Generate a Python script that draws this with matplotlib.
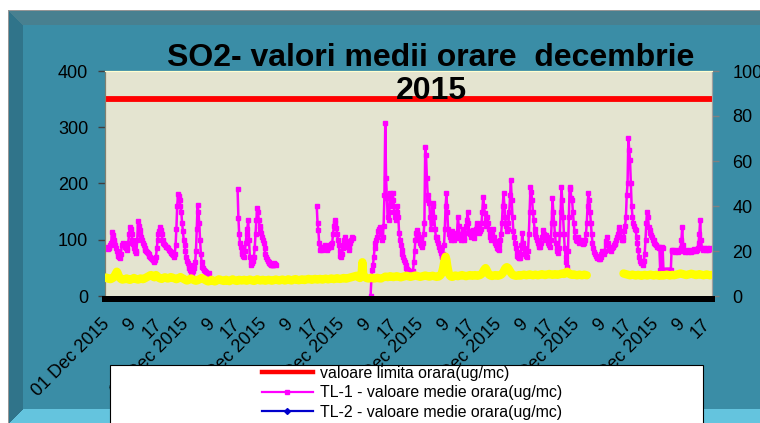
import numpy as np
import matplotlib
matplotlib.use("Agg")
from matplotlib import pyplot as plt
from matplotlib.patches import Rectangle
from matplotlib.lines import Line2D
from matplotlib.transforms import ScaledTranslation

plt.rcParams['font.family'] = ['Liberation Sans', 'DejaVu Sans']

N = None

# Limit value (ug/mc)
valoare_limita = 350

# TL-1 hourly means, one row per day of December 2015 (left axis, ug/mc)
tl1_days = [
    [88, 86, 85, 84, 86, 88, 90, 95, 113, 108, 100, 95, 90, 85, 80, 76, 72, 70, 67, 75, 90, 95, 92, 90],
    [88, 85, 82, 85, 95, 110, 123, 120, 110, 100, 92, 85, 80, 77, 80, 100, 134, 125, 118, 110, 105, 100, 95, 90],
    [85, 82, 80, 78, 76, 74, 72, 70, 68, 66, 64, 62, 61, 64, 70, 85, 100, 110, 115, 122, 118, 110, 100, 95],
    [92, 90, 88, 87, 87, 85, 82, 80, 78, 76, 74, 73, 70, 75, 90, 120, 160, 181, 178, 170, 160, 150, 130, 115],
    [100, 90, 80, 70, 62, 58, 55, 50, 46, 43, 41, 45, 50, 55, 60, 80, 120, 162, 150, 130, 100, 75, 60, 52],
    [50, 47, 45, 42, 40, 38, 37, 41, N, N, N, N, N, N, N, N, N, N, N, N, N, N, N, N],
    [N, N, N, N, N, N, N, N, N, N, N, N, N, N, N, N, N, N, 190, 139, 110, 94, 88, 80],
    [75, 72, 70, 80, 94, 110, 120, 135, 100, 70, 60, 55, 58, 62, 70, 85, 110, 135, 156, 150, 135, 125, 120, 112],
    [105, 100, 95, 85, 75, 70, 65, 62, 60, 58, 57, 56, 55, 55, 56, 58, 57, 56, N, N, N, N, N, N],
    [N, N, N, N, N, N, N, N, N, N, N, N, N, N, N, N, N, N, N, N, N, N, N, N],
    [N, N, N, N, N, N, N, N, N, N, N, N, N, N, N, N, N, N, N, 160, 130, 117, 95, 82],
    [88, 85, 82, 84, 88, 90, 86, 83, 82, 85, 88, 90, 92, 88, 95, 110, 125, 135, 130, 121, 110, 100, 90, 80],
    [72, 70, 75, 85, 95, 100, 105, 98, 90, 87, 82, 88, 95, 100, 105, 103, N, N, N, N, N, N, N, N],
    [N, N, N, N, N, N, N, N, N, N, N, N, N, 0, 30, 46, 55, 70, 85, 95, 100, 105, 115, 120],
    [123, 118, 110, 100, 105, 125, 180, 307, 209, 175, 140, 135, 150, 183, 175, 160, 183, 170, 150, 140, 135, 150, 160, 140],
    [112, 100, 90, 82, 75, 70, 64, 60, 55, 50, 48, 46, 45, 42, 40, 38, 35, 45, 60, 80, 100, 112, 117, 110],
    [105, 100, 95, 90, 87, 95, 110, 130, 265, 250, 210, 180, 170, 165, 140, 120, 130, 165, 160, 140, 120, 105, 100, 105],
    [95, 88, 82, 76, 72, 70, 75, 90, 120, 160, 183, 150, 120, 110, 105, 100, 110, 115, 105, 100, 108, 112, 104, 110],
    [141, 125, 110, 104, 100, 110, 120, 104, 100, 112, 125, 135, 150, 130, 115, 110, 105, 112, 118, 110, 104, 112, 120, 130],
    [125, 118, 112, 115, 120, 130, 150, 176, 160, 148, 135, 125, 141, 130, 120, 112, 105, 100, 110, 120, 105, 98, 94, 90],
    [86, 84, 82, 90, 100, 110, 130, 160, 183, 160, 140, 125, 115, 120, 130, 150, 180, 206, 170, 140, 115, 105, 94, 85],
    [78, 72, 70, 67, 68, 75, 90, 112, 94, 85, 80, 75, 72, 70, 80, 110, 150, 194, 185, 170, 150, 135, 120, 110],
    [105, 100, 95, 90, 88, 87, 95, 105, 117, 110, 105, 100, 108, 105, 100, 95, 90, 88, 100, 130, 174, 150, 130, 110],
    [95, 85, 80, 76, 85, 110, 150, 194, 170, 140, 110, 85, 70, 60, 52, 80, 140, 194, 190, 175, 170, 150, 130, 115],
    [105, 100, 98, 105, 100, 95, 98, 100, 95, 92, 95, 98, 100, 110, 130, 160, 183, 170, 150, 130, 110, 95, 85, 78],
    [75, 72, 70, 68, 70, 66, 65, 70, 75, 80, 78, 75, 80, 90, 98, 105, 95, 88, 85, 82, 80, 85, 88, 90],
    [92, 95, 100, 105, 110, 118, 123, 115, 105, 100, 100, 105, 115, 125, 141, 180, 200, 281, 260, 242, 200, 160, 141, 130],
    [125, 120, 118, 105, 95, 82, 70, 62, 58, 60, 58, 56, 62, 75, 100, 130, 150, 140, 123, 118, 112, 108, 105, 100],
    [100, 95, 92, 90, 88, 87, 87, 85, 46, 46, 87, 85, 46, 46, 46, 46, 46, 46, 46, 46, 46, 46, 82, 80],
    [82, 80, 78, 80, 82, 80, 78, 80, 82, 85, 100, 123, 90, 80, 78, 80, 82, 80, 78, 80, 82, 80, 78, 80],
    [80, 82, 83, 82, 80, 82, 85, 95, 110, 135, 100, 85, 82, 84, 85, 83, 82, 85, 84, 82, 83, 85, 84, 83],
]

# second station series drawn in yellow (right axis)
galben_days = [
    [8.0, 8.2, 8.0, 7.8, 7.8, 7.6, 7.5, 7.6, 7.8, 8.0, 8.3, 8.8, 9.5, 10.2, 10.8, 10.2, 9.2, 8.4, 8.0, 7.6, 7.4, 7.3, 7.4, 7.5],
    [7.5, 7.6, 7.8, 7.6, 7.4, 7.3, 7.2, 7.3, 7.5, 7.6, 7.8, 8.0, 7.8, 7.6, 7.5, 7.4, 7.3, 7.4, 7.6, 7.8, 7.7, 7.6, 7.5, 7.6],
    [7.8, 8.0, 8.2, 8.4, 8.6, 8.8, 9.0, 9.2, 9.3, 9.1, 8.8, 8.5, 8.3, 8.8, 9.3, 9.0, 8.6, 8.2, 8.0, 7.8, 7.7, 7.6, 7.8, 8.0],
    [8.2, 8.3, 8.2, 8.0, 7.8, 7.8, 8.0, 8.2, 8.4, 8.3, 8.2, 8.0, 7.9, 7.8, 7.6, 7.5, 7.6, 7.8, 8.0, 8.2, 8.4, 8.2, 8.0, 7.8],
    [7.6, 7.4, 7.2, 7.0, 6.9, 7.0, 7.2, 7.4, 7.6, 7.8, 7.6, 7.4, 7.2, 7.0, 6.9, 6.8, 6.9, 7.0, 7.2, 7.4, 7.6, 7.8, 8.0, 7.8],
    [7.6, 7.4, 7.2, 7.0, 6.8, 6.6, 6.5, 6.6, 6.8, 7.0, 7.2, 7.0, 6.8, 6.6, 6.5, 6.6, 6.8, 7.0, 7.2, 7.4, 7.3, 7.2, 7.0, 6.9],
    [6.8, 6.7, 6.8, 7.0, 7.2, 7.0, 6.8, 6.7, 6.6, 6.8, 7.0, 7.2, 7.4, 7.2, 7.0, 6.9, 6.8, 6.7, 6.8, 7.0, 7.2, 7.1, 7.0, 6.9],
    [7.0, 7.1, 7.2, 7.0, 6.9, 6.8, 6.9, 7.0, 7.2, 7.3, 7.2, 7.0, 6.9, 6.8, 6.7, 6.8, 7.0, 7.2, 7.4, 7.3, 7.1, 7.0, 6.9, 7.0],
    [7.1, 7.2, 7.0, 6.9, 6.8, 6.9, 7.0, 7.1, 7.2, 7.1, 7.0, 6.9, 6.8, 6.9, 7.0, 7.1, 7.2, 7.3, 7.2, 7.1, 7.0, 6.9, 7.0, 7.1],
    [7.2, 7.3, 7.2, 7.0, 6.9, 7.0, 7.1, 7.2, 7.4, 7.3, 7.1, 7.0, 6.9, 7.0, 7.2, 7.3, 7.4, 7.5, 7.4, 7.2, 7.1, 7.0, 7.1, 7.2],
    [7.3, 7.4, 7.3, 7.2, 7.1, 7.2, 7.3, 7.4, 7.5, 7.6, 7.5, 7.4, 7.3, 7.2, 7.3, 7.4, 7.5, 7.6, 7.5, 7.4, 7.3, 7.4, 7.5, 7.6],
    [7.5, 7.4, 7.3, 7.4, 7.5, 7.6, 7.7, 7.6, 7.5, 7.4, 7.5, 7.6, 7.7, 7.8, 7.7, 7.6, 7.5, 7.6, 7.7, 7.8, 7.9, 7.8, 7.7, 7.6],
    [7.6, 7.7, 7.8, 7.9, 8.0, 7.9, 7.8, 7.7, 7.8, 7.9, 8.0, 8.1, 8.2, 8.3, 8.4, 8.5, 8.6, 8.7, 8.8, 8.9, 9.0, 8.8, 8.5, 8.2],
    [8.0, 8.3, 9.5, 15.0, 9.5, 8.6, 8.4, 8.2, 8.0, 7.9, 7.8, 7.8, 7.9, 8.0, 8.1, 8.0, 7.9, 7.8, 7.8, 7.9, 8.0, 8.1, 8.0, 7.9],
    [7.9, 7.8, 7.8, N, N, N, 8.4, 8.6, 8.6, 8.5, 8.4, 8.5, 8.6, 8.8, 8.7, 8.6, 8.5, 8.4, 8.5, 8.6, 8.7, 8.8, 8.7, 8.6],
    [8.5, 8.4, 8.3, 8.4, 8.5, 8.6, 8.7, 8.8, 8.9, 9.0, 8.9, 8.8, 8.7, 8.6, 8.5, 8.6, 8.7, 8.8, 8.9, 9.0, 9.1, 9.0, 8.9, 8.8],
    [8.7, 8.6, 8.5, 8.6, 8.7, 8.8, 8.9, 9.0, 9.1, 9.0, 8.9, 8.8, 8.7, 8.6, 8.7, 8.8, 8.9, 9.0, 8.9, 8.8, 8.7, 8.6, 8.5, 8.6],
    [8.6, 8.8, 9.0, 9.4, 10.0, 11.0, 12.5, 14.5, 16.5, 17.5, 16.0, 13.5, 11.5, 10.0, 9.2, 8.8, 8.6, 8.5, 8.6, 8.8, 9.0, 9.1, 9.0, 8.9],
    [8.8, 8.9, 9.0, 9.1, 9.2, 9.3, 9.2, 9.1, 9.0, 8.9, 8.8, 8.9, 9.0, 9.1, 9.2, 9.3, 9.2, 9.1, 9.0, 9.1, 9.2, 9.3, 9.2, 9.1],
    [9.0, 9.1, 9.2, 9.3, 9.5, 9.8, 10.2, 10.8, 11.5, 12.0, 12.4, 11.8, 11.0, 10.2, 9.6, 9.3, 9.1, 9.0, 8.9, 9.0, 9.1, 9.2, 9.3, 9.2],
    [9.1, 9.0, 9.1, 9.2, 9.3, 9.5, 9.8, 10.2, 10.8, 11.5, 12.2, 12.6, 12.8, 12.6, 12.2, 11.6, 11.0, 10.4, 9.9, 9.5, 9.3, 9.2, 9.1, 9.0],
    [9.0, 9.1, 9.2, 9.3, 9.2, 9.1, 9.2, 9.3, 9.4, 9.5, 9.4, 9.3, 9.2, 9.3, 9.4, 9.5, 9.6, 9.5, 9.4, 9.3, 9.2, 9.3, 9.4, 9.5],
    [9.4, 9.3, 9.2, 9.3, 9.4, 9.5, 9.6, 9.7, 9.6, 9.5, 9.4, 9.3, 9.4, 9.5, 9.6, 9.7, 9.8, 9.7, 9.6, 9.5, 9.4, 9.5, 9.6, 9.7],
    [9.6, 9.5, 9.4, 9.5, 9.6, 9.7, 9.8, 9.9, 10.0, 9.9, 9.8, 9.9, 10.2, 10.6, 10.8, 10.5, 10.1, 9.8, 9.6, 9.5, 9.4, 9.5, 9.6, 9.5],
    [9.4, 9.3, 9.2, 9.3, 9.4, 9.5, 9.4, 9.3, 9.2, 9.3, 9.4, 9.5, 9.4, 9.3, 9.2, N, N, N, N, N, N, N, N, N],
    [N, N, N, N, N, N, N, N, N, N, N, N, N, N, N, N, N, N, N, N, N, N, N, N],
    [N, N, N, N, N, N, N, N, N, N, N, 10.0, 9.9, 9.8, 9.7, 9.6, 9.5, 9.4, 9.3, 9.2, 9.3, 9.4, 9.5, 9.4],
    [9.3, 9.2, 9.1, 9.2, 9.3, 9.4, 9.3, 9.2, 9.1, 9.0, 9.1, 9.2, 9.3, 9.4, 9.3, 9.2, 9.1, 9.2, 9.3, 9.4, 9.5, 9.4, 9.3, 9.2],
    [9.1, 9.2, 9.3, 9.4, 9.3, 9.2, 9.1, 9.0, 9.1, 9.2, 9.3, 9.2, 9.1, 9.2, 9.3, 9.4, 9.5, 9.4, 9.3, 9.2, 9.1, 9.2, 9.3, 9.4],
    [9.3, 9.2, 9.3, 9.4, 9.5, 9.6, 9.7, 9.8, 9.9, 10.0, 9.9, 9.8, 9.7, 9.6, 9.5, 9.4, 9.3, 9.4, 9.5, 9.6, 9.7, 9.8, 9.9, 9.8],
    [9.7, 9.6, 9.5, 9.4, 9.3, 9.4, 9.5, 9.6, 9.7, 9.6, 9.5, 9.4, 9.3, 9.2, 9.3, 9.4, 9.5, 9.6, 9.5, 9.4, 9.3, 9.2, 9.3, 9.4],
]

# category labels every 32 hours
zile_etichete = ['01 Dec 2015', '05 Dec 2015', '09 Dec 2015', '13 Dec 2015',
                 '17 Dec 2015', '21 Dec 2015', '25 Dec 2015', '29 Dec 2015']
ore_etichete = ['9', '17']

legend_labels = ['valoare limita orara(ug/mc)',
                 'TL-1 - valoare medie orara(ug/mc)',
                 'TL-2 - valoare medie orara(ug/mc)']

title = 'SO2- valori medii orare  decembrie\n2015'

tl1 = np.array([v for day in tl1_days for v in day], dtype=float)
galben = np.array([v for day in galben_days for v in day], dtype=float)
ore = np.arange(len(tl1))

W, H = 760, 423
fig = plt.figure(figsize=(W / 100, H / 100), dpi=100)

# bevelled teal frame as background image
yy, xx = np.mgrid[0:H, 0:W]
img = np.ones((H, W, 3))
teal = np.array([58, 141, 166]) / 255
inside = (yy >= 11) & (xx >= 9)
img[inside] = teal
d_top = yy - 11
d_left = xx - 9
d_bot = H - 1 - yy
d_right = W - 1 - xx + 20
bev = 14
dmin = np.minimum.reduce([d_top, d_left, d_bot, d_right])
band = inside & (dmin < bev)
top_m = band & (d_top == dmin)
left_m = band & (d_left == dmin) & ~top_m
bot_m = band & (d_bot == dmin) & ~top_m & ~left_m
right_m = band & ~top_m & ~left_m & ~bot_m
img[top_m] = np.array([72, 128, 144]) / 255
img[left_m] = np.array([48, 116, 138]) / 255
img[bot_m] = np.array([100, 196, 222]) / 255
img[right_m] = np.array([66, 156, 182]) / 255
img[(yy == 10) & (xx >= 8)] = np.array([150, 150, 150]) / 255
img[(xx == 8) & (yy >= 10)] = np.array([150, 150, 150]) / 255
bg = fig.add_axes([0, 0, 1, 1], zorder=-10)
bg.imshow(img, aspect='auto', interpolation='nearest')
bg.axis('off')

ax = fig.add_axes([105 / W, 1 - 296 / H, 607 / W, 225 / H])
ax.set_facecolor('#E4E4D0')
ax2 = ax.twinx()

for a in (ax, ax2):
    a.spines['top'].set_color('#FFFFD0')
    a.spines['left'].set_color('#808070')
    a.spines['right'].set_color('#A0A0A0')
    a.spines['bottom'].set_color('black')
    a.spines['bottom'].set_linewidth(4.3)
    a.spines['bottom'].set_position(('outward', 2))

ax.plot(ore, np.full(len(ore), valoare_limita), color='#FF0000', lw=4.2, solid_capstyle='butt', zorder=3)
ax.plot(ore, tl1, color='#FF00FF', lw=1.8, marker='s', ms=3, mec='#FF00FF', zorder=4)
ax2.plot(ore, galben, color='#FFFF00', lw=6, solid_capstyle='round', zorder=3)

ax.set_xlim(-0.5, len(ore) - 0.5)
ax.set_ylim(0, 400)
ax2.set_ylim(0, 100)
ax.set_yticks([0, 100, 200, 300, 400])
ax2.set_yticks([0, 20, 40, 60, 80, 100])

ticks = np.arange(0, len(ore), 32)
labels = []
for i in range(len(ticks)):
    if i % 3 == 0:
        labels.append(zile_etichete[i // 3])
    else:
        labels.append(ore_etichete[i % 3 - 1])
ax.set_xticks(ticks)
ax.set_xticklabels(labels, rotation=45, ha='right', va='top', rotation_mode='anchor', fontsize=13)
ax.tick_params(axis='x', length=0, pad=12)
ax.tick_params(axis='y', length=5, width=1, color='#404040', pad=7, labelsize=13)
ax2.tick_params(axis='y', length=5, width=1, color='#808080', pad=9.5, labelsize=13)
shift = ScaledTranslation(-4 / 100, 0, fig.dpi_scale_trans)
for lbl in ax.get_xticklabels():
    lbl.set_transform(lbl.get_transform() + shift)

fig.text(431 / W, 1 - 99 / H, title, ha='center', va='baseline', fontsize=23,
         fontweight='bold', linespacing=1.15)

# legend box
box = Rectangle((110 / W, -0.05), 593 / W, (H - 365) / H + 0.05, transform=fig.transFigure,
                facecolor='white', edgecolor='black', lw=0.8, zorder=4)
fig.add_artist(box)
handles = [Line2D([], [], color='#FF0000', lw=3.2),
           Line2D([], [], color='#FF00FF', lw=1.6, marker='s', ms=3),
           Line2D([], [], color='#0000CC', lw=1.6, marker='D', ms=3)]
leg = fig.legend(handles, legend_labels, loc='upper left', bbox_to_anchor=(262 / W, 1 - 366 / H),
                 frameon=False, fontsize=11.4, handlelength=3.2, handletextpad=0.45,
                 labelspacing=0.28, borderpad=0, borderaxespad=0, markerfirst=True)
leg.set_zorder(5)

fig.savefig('out.png', dpi=100)
